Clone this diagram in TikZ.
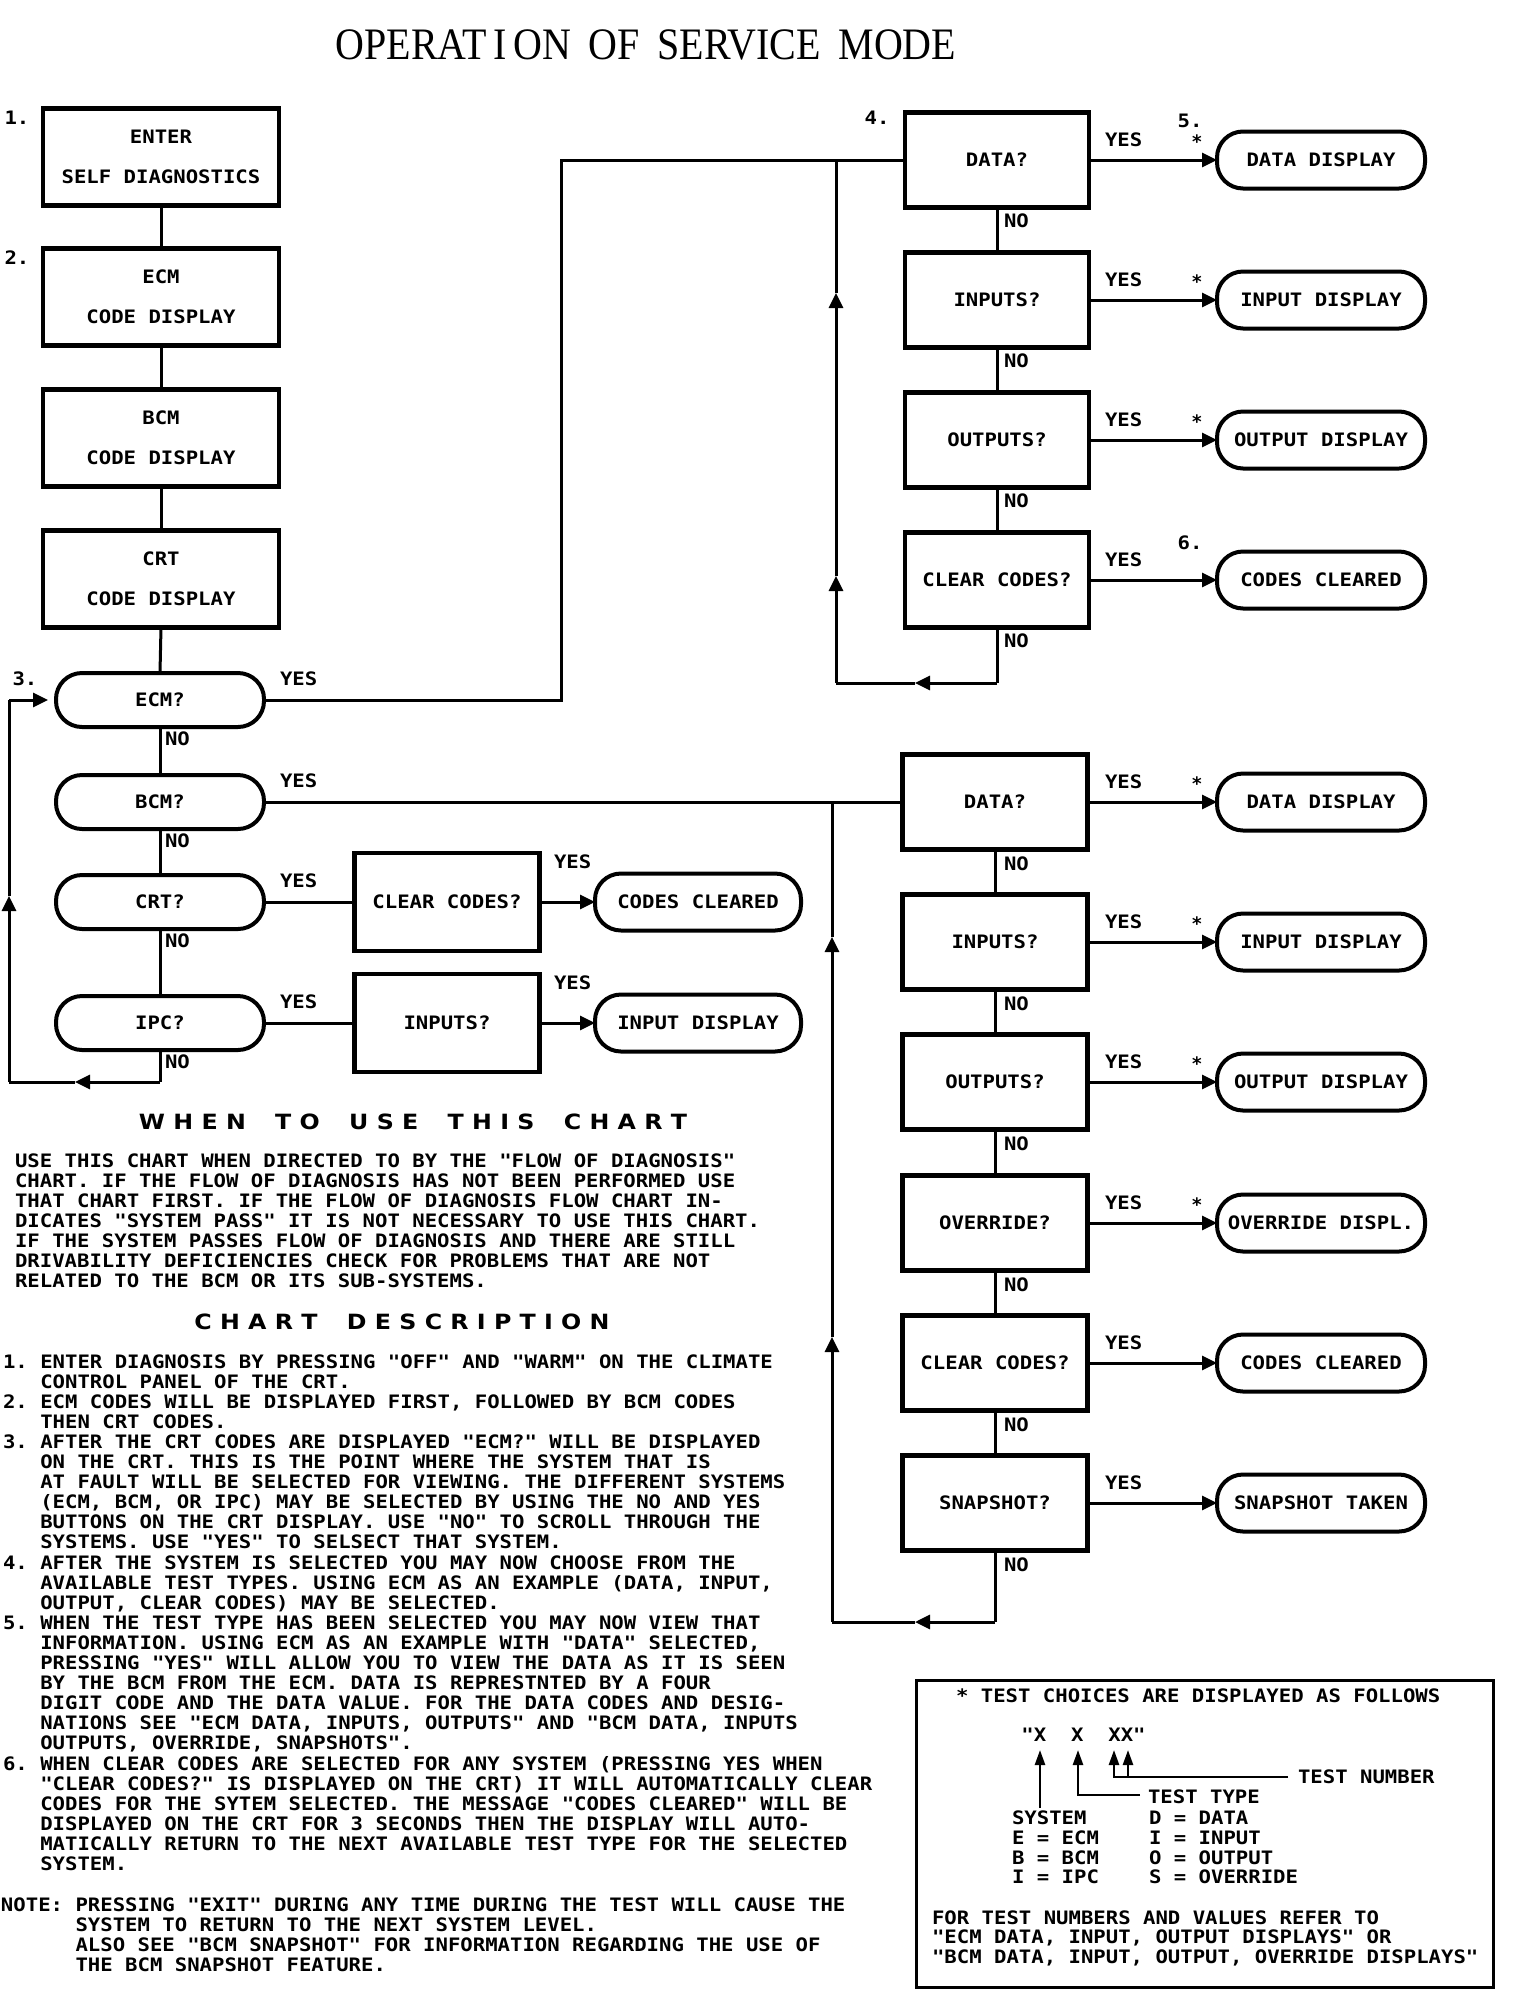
\documentclass[tikz,border=0pt]{standalone}
\usepackage{fontspec}
\usepackage{graphicx}
\usetikzlibrary{arrows.meta}
\newfontfamily\dvm{DejaVu Sans Mono}
\newfontfamily\seriff{Liberation Serif}
\newfontfamily\widesans{DejaVu Sans}
\newcommand{\bfnt}{\dvm\bfseries\fontsize{18.5}{20.1}\selectfont\frenchspacing}
\newcommand{\tx}[1]{\scalebox{1.115}[1]{#1}}
\newcommand{\ind}{\hphantom{0.~}}
\newcommand{\nind}{\hphantom{NOTE:~}}
\frenchspacing
\begin{document}
\begin{tikzpicture}[x=1pt,y=-1pt,
  every node/.style={inner sep=0pt, outer sep=0pt},
  tbox/.style={draw, line width=4.5pt, minimum width=184pt, minimum height=95pt, font=\bfnt, align=center},
  pill/.style={draw, line width=4pt, rounded corners=26pt, minimum width=208pt, minimum height=55pt, font=\bfnt},
  lbl/.style={font=\bfnt, anchor=west, xscale=1.115},
  star/.style={font=\bfnt},
  conn/.style={line width=3pt},
  arr/.style={line width=3pt, -{Triangle[length=15pt,width=14pt]}},
  larr/.style={line width=2.5pt, -{Triangle[length=15pt,width=10pt]}},
  ptxt/.style={font=\bfnt, align=left, anchor=north west, xscale=1.115},
  head/.style={font=\widesans\bfseries\fontsize{21}{24}\selectfont, xscale=1.13}
]
\useasboundingbox (0,0) rectangle (1520,1990);
\fill[white] (0,0) rectangle (1520,1990);

% title
\node[font=\seriff\fontsize{45}{50}\selectfont, xscale=0.888] (title) at (646,45) {OPERAT\,I\,ON\hspace{20pt}OF\hspace{20pt}SERVICE\hspace{20pt}MODE};

% left column boxes
\node[tbox, minimum width=236pt, minimum height=97pt] (enter) at (161,157) {\tx{ENTER}\\[20pt]\tx{SELF DIAGNOSTICS}};
\node[tbox, minimum width=236pt, minimum height=97pt] (ecmcd) at (161,297) {\tx{ECM}\\[20pt]\tx{CODE DISPLAY}};
\node[tbox, minimum width=236pt, minimum height=97pt] (bcmcd) at (161,438) {\tx{BCM}\\[20pt]\tx{CODE DISPLAY}};
\node[tbox, minimum width=236pt, minimum height=97pt] (crtcd) at (161,579) {\tx{CRT}\\[20pt]\tx{CODE DISPLAY}};
\node[star, xscale=1.115] at (17,118) {1.};
\node[star, xscale=1.115] at (17,258) {2.};
\node[star, xscale=1.115] at (25,679) {3.};

% left pills
\node[pill, minimum height=54pt] (ecmq) at (160,700) {\tx{ECM?}};
\node[pill, minimum height=54pt] (bcmq) at (160,802) {\tx{BCM?}};
\node[pill, minimum height=54pt] (crtq) at (160,902) {\tx{CRT?}};
\node[pill, minimum height=54pt] (ipcq) at (160,1023) {\tx{IPC?}};

\draw[conn] (enter.south) -- (ecmcd.north);
\draw[conn] (ecmcd.south) -- (bcmcd.north);
\draw[conn] (bcmcd.south) -- (crtcd.north);
\draw[conn] (crtcd.south) -- (ecmq.north);
\draw[conn] (ecmq.south) -- (bcmq.north);
\draw[conn] (bcmq.south) -- (crtq.north);
\draw[conn] (crtq.south) -- (ipcq.north);

\node[lbl] at (280,679) {YES};
\node[lbl] at (280,781) {YES};
\node[lbl] at (280,881) {YES};
\node[lbl] at (280,1002) {YES};
\node[lbl] at (165,739) {NO};
\node[lbl] at (165,841) {NO};
\node[lbl] at (165,941) {NO};
\node[lbl] at (165,1062) {NO};

% left loop
\coordinate (lb1) at (160,1082);
\coordinate (lba) at (75,1082);
\coordinate (lb2) at (9,1082);
\coordinate (lbu) at (9,896);
\coordinate (lb3) at (9,700);
\draw[conn] (ipcq.south) -- (lb1);
\draw[arr] (lb1) -- (lba);
\draw[conn] (lba) -- (lb2);
\draw[arr] (lb2) -- (lbu);
\draw[conn] (lbu) -- (lb3);
\draw[arr, shorten >=8pt] (lb3) -- (ecmq.west);

% CRT and IPC branches
\node[tbox, minimum width=185pt, minimum height=98pt] (ccl) at (447,902) {\tx{CLEAR CODES?}};
\node[pill, minimum width=206pt, minimum height=57pt] (cclp) at (698,902) {\tx{CODES CLEARED}};
\node[tbox, minimum width=185pt, minimum height=98pt] (inl) at (447,1023) {\tx{INPUTS?}};
\node[pill, minimum width=206pt, minimum height=57pt] (indp) at (698,1023) {\tx{INPUT DISPLAY}};
\draw[conn] (crtq.east) -- (ccl.west);
\draw[arr] (ccl.east) -- (cclp.west);
\draw[conn] (ipcq.east) -- (inl.west);
\draw[arr] (inl.east) -- (indp.west);
\node[lbl] at (554,862) {YES};
\node[lbl] at (554,983) {YES};

% upper right (ECM)
\node[tbox] (r1) at (997,160) {\tx{DATA?}};
\node[tbox] (r2) at (997,300) {\tx{INPUTS?}};
\node[tbox] (r3) at (997,440) {\tx{OUTPUTS?}};
\node[tbox] (r4) at (997,580) {\tx{CLEAR CODES?}};
\node[pill, minimum height=57pt] (p1) at (1321,160) {\tx{DATA DISPLAY}};
\node[pill, minimum height=57pt] (p2) at (1321,300) {\tx{INPUT DISPLAY}};
\node[pill, minimum height=57pt] (p3) at (1321,440) {\tx{OUTPUT DISPLAY}};
\node[pill, minimum height=57pt] (p4) at (1321,580) {\tx{CODES CLEARED}};
\foreach \i/\y in {1/140,2/280,3/420,4/560} {
  \draw[arr] (r\i.east) -- (p\i.west);
  \node[lbl] at (1105,\y) {YES};
}
\foreach \y in {142,282,422} \node[star] at (1197,\y) {*};
\node[star, xscale=1.115] at (877,118) {4.};
\node[star, xscale=1.115] at (1190,121) {5.};
\node[star, xscale=1.115] at (1190,543) {6.};
\draw[conn] (r1.south) -- (r2.north);
\draw[conn] (r2.south) -- (r3.north);
\draw[conn] (r3.south) -- (r4.north);
\foreach \y in {221,361,501,641} \node[lbl] at (1004,\y) {NO};

% ECM yes line
\coordinate (eu) at (561,700);
\draw[conn] (ecmq.east) -- (eu) |- (r1.west);

% upper loop
\coordinate (ul1) at (997,683);
\coordinate (ula) at (915,683);
\coordinate (ul2) at (836,683);
\coordinate (ulu1) at (836,576);
\coordinate (ulu2) at (836,293);
\coordinate (ul3) at (836,160);
\draw[conn] (r4.south) -- (ul1);
\draw[arr] (ul1) -- (ula);
\draw[conn] (ula) -- (ul2);
\draw[arr] (ul2) -- (ulu1);
\draw[arr] (ulu1) -- (ulu2);
\draw[conn] (ulu2) -- (ul3);

% lower right (BCM)
\node[tbox, minimum width=185pt] (s1) at (995,802) {\tx{DATA?}};
\node[tbox, minimum width=185pt] (s2) at (995,942) {\tx{INPUTS?}};
\node[tbox, minimum width=185pt] (s3) at (995,1082) {\tx{OUTPUTS?}};
\node[tbox, minimum width=185pt] (s4) at (995,1223) {\tx{OVERRIDE?}};
\node[tbox, minimum width=185pt] (s5) at (995,1363) {\tx{CLEAR CODES?}};
\node[tbox, minimum width=185pt] (s6) at (995,1503) {\tx{SNAPSHOT?}};
\node[pill, minimum height=57pt] (q1) at (1321,802) {\tx{DATA DISPLAY}};
\node[pill, minimum height=57pt] (q2) at (1321,942) {\tx{INPUT DISPLAY}};
\node[pill, minimum height=57pt] (q3) at (1321,1082) {\tx{OUTPUT DISPLAY}};
\node[pill, minimum height=57pt] (q4) at (1321,1223) {\tx{OVERRIDE DISPL.}};
\node[pill, minimum height=57pt] (q5) at (1321,1363) {\tx{CODES CLEARED}};
\node[pill, minimum height=57pt] (q6) at (1321,1503) {\tx{SNAPSHOT TAKEN}};
\foreach \i/\y in {1/782,2/922,3/1062,4/1203,5/1343,6/1483} {
  \draw[arr] (s\i.east) -- (q\i.west);
  \node[lbl] at (1105,\y) {YES};
}
\foreach \y in {784,924,1064,1205} \node[star] at (1197,\y) {*};
\draw[conn] (s1.south) -- (s2.north);
\draw[conn] (s2.south) -- (s3.north);
\draw[conn] (s3.south) -- (s4.north);
\draw[conn] (s4.south) -- (s5.north);
\draw[conn] (s5.south) -- (s6.north);
\foreach \y in {864,1004,1144,1285,1425,1565} \node[lbl] at (1004,\y) {NO};

% BCM yes line
\draw[conn] (bcmq.east) -- (s1.west);

% lower loop
\coordinate (ll1) at (995,1622);
\coordinate (lla) at (915,1622);
\coordinate (ll2) at (832,1622);
\coordinate (llu1) at (832,1337);
\coordinate (llu2) at (832,937);
\coordinate (ll3) at (832,802);
\draw[conn] (s6.south) -- (ll1);
\draw[arr] (ll1) -- (lla);
\draw[conn] (lla) -- (ll2);
\draw[arr] (ll2) -- (llu1);
\draw[arr] (llu1) -- (llu2);
\draw[conn] (llu2) -- (ll3);

% text blocks
\node[head] (when) at (413,1122) {W H E N\hspace{26pt}T O\hspace{26pt}U S E\hspace{26pt}T H I S\hspace{26pt}C H A R T};
\node[ptxt] (para) at (15,1153.5) {USE THIS CHART WHEN DIRECTED TO BY THE "FLOW OF DIAGNOSIS"\\
CHART. IF THE FLOW OF DIAGNOSIS HAS NOT BEEN PERFORMED USE\\
THAT CHART FIRST. IF THE FLOW OF DIAGNOSIS FLOW CHART IN-\\
DICATES "SYSTEM PASS" IT IS NOT NECESSARY TO USE THIS CHART.\\
IF THE SYSTEM PASSES FLOW OF DIAGNOSIS AND THERE ARE STILL\\
DRIVABILITY DEFICIENCIES CHECK FOR PROBLEMS THAT ARE NOT\\
RELATED TO THE BCM OR ITS SUB-SYSTEMS.};
\node[head] (desc) at (402,1322) {C H A R T\hspace{26pt}D E S C R I P T I O N};
\node[ptxt] (list) at (3,1354.25) {1. ENTER DIAGNOSIS BY PRESSING "OFF" AND "WARM" ON THE CLIMATE\\
\ind CONTROL PANEL OF THE CRT.\\
2. ECM CODES WILL BE DISPLAYED FIRST, FOLLOWED BY BCM CODES\\
\ind THEN CRT CODES.\\
3. AFTER THE CRT CODES ARE DISPLAYED "ECM?" WILL BE DISPLAYED\\
\ind ON THE CRT. THIS IS THE POINT WHERE THE SYSTEM THAT IS\\
\ind AT FAULT WILL BE SELECTED FOR VIEWING. THE DIFFERENT SYSTEMS\\
\ind (ECM, BCM, OR IPC) MAY BE SELECTED BY USING THE NO AND YES\\
\ind BUTTONS ON THE CRT DISPLAY. USE "NO" TO SCROLL THROUGH THE\\
\ind SYSTEMS. USE "YES" TO SELSECT THAT SYSTEM.\\
4. AFTER THE SYSTEM IS SELECTED YOU MAY NOW CHOOSE FROM THE\\
\ind AVAILABLE TEST TYPES. USING ECM AS AN EXAMPLE (DATA, INPUT,\\
\ind OUTPUT, CLEAR CODES) MAY BE SELECTED.\\
5. WHEN THE TEST TYPE HAS BEEN SELECTED YOU MAY NOW VIEW THAT\\
\ind INFORMATION. USING ECM AS AN EXAMPLE WITH "DATA" SELECTED,\\
\ind PRESSING "YES" WILL ALLOW YOU TO VIEW THE DATA AS IT IS SEEN\\
\ind BY THE BCM FROM THE ECM. DATA IS REPRESTNTED BY A FOUR\\
\ind DIGIT CODE AND THE DATA VALUE. FOR THE DATA CODES AND DESIG-\\
\ind NATIONS SEE "ECM DATA, INPUTS, OUTPUTS" AND "BCM DATA, INPUTS\\
\ind OUTPUTS, OVERRIDE, SNAPSHOTS".\\
6. WHEN CLEAR CODES ARE SELECTED FOR ANY SYSTEM (PRESSING YES WHEN\\
\ind "CLEAR CODES?" IS DISPLAYED ON THE CRT) IT WILL AUTOMATICALLY CLEAR\\
\ind CODES FOR THE SYTEM SELECTED. THE MESSAGE "CODES CLEARED" WILL BE\\
\ind DISPLAYED ON THE CRT FOR 3 SECONDS THEN THE DISPLAY WILL AUTO-\\
\ind MATICALLY RETURN TO THE NEXT AVAILABLE TEST TYPE FOR THE SELECTED\\
\ind SYSTEM.};
\node[ptxt] (note) at (1,1897.25) {NOTE: PRESSING "EXIT" DURING ANY TIME DURING THE TEST WILL CAUSE THE\\
\nind SYSTEM TO RETURN TO THE NEXT SYSTEM LEVEL.\\
\nind ALSO SEE "BCM SNAPSHOT" FOR INFORMATION REGARDING THE USE OF\\
\nind THE BCM SNAPSHOT FEATURE.};

% legend
\node[draw, line width=3pt, minimum width=577pt, minimum height=307pt] (legend) at (1204.5,1834) {};
\node[lbl] (lt) at (956,1696) {* TEST CHOICES ARE DISPLAYED AS FOLLOWS};
\node[lbl] (xx) at (1021.4,1735) {"X~~X~~XX"};
\coordinate (syst) at (1040,1750);
\coordinate (sysb) at (1040,1808);
\coordinate (ttt) at (1078,1750);
\coordinate (ttc) at (1078,1795);
\coordinate (ttl) at (1140,1795);
\coordinate (tn1) at (1114,1750);
\coordinate (tn1c) at (1114,1777);
\coordinate (tn2) at (1128,1750);
\coordinate (tn2c) at (1128,1777);
\coordinate (tnl) at (1288,1777);
\draw[larr] (sysb) -- (syst);
\draw[larr] (ttl) -- (ttc) -- (ttt);
\draw[larr] (tnl) -- (tn1c) -- (tn1);
\draw[larr] (tn2c) -- (tn2);
\node[lbl] at (1298,1777) {TEST NUMBER};
\node[lbl] at (1148,1797) {TEST TYPE};
\node[lbl] at (1012,1818) {SYSTEM};
\node[lbl] at (1012,1838) {E = ECM};
\node[lbl] at (1012,1858) {B = BCM};
\node[lbl] at (1012,1877) {I = IPC};
\node[lbl] at (1149,1818) {D = DATA};
\node[lbl] at (1149,1838) {I = INPUT};
\node[lbl] at (1149,1858) {O = OUTPUT};
\node[lbl] at (1149,1877) {S = OVERRIDE};
\node[lbl] at (932,1918) {FOR TEST NUMBERS AND VALUES REFER TO};
\node[lbl] at (932,1938) {"ECM DATA, INPUT, OUTPUT DISPLAYS" OR};
\node[lbl] at (932,1958) {"BCM DATA, INPUT, OUTPUT, OVERRIDE DISPLAYS"};
\end{tikzpicture}
\end{document}
